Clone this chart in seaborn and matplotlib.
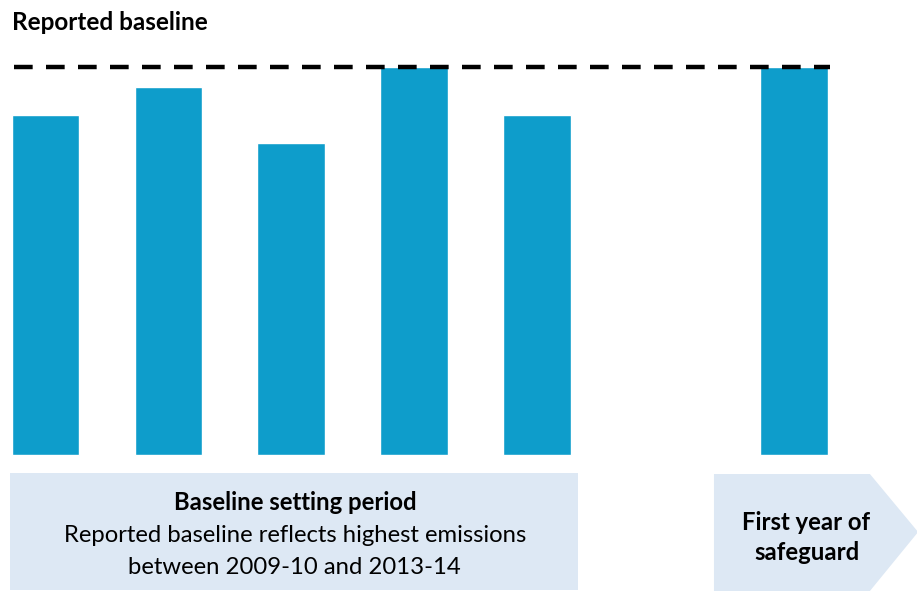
import matplotlib
matplotlib.use("Agg")
import matplotlib.pyplot as plt
import seaborn as sns
import pandas as pd
from matplotlib.patches import Rectangle, Polygon

# Data
positions = [0, 1, 2, 3, 4, 6.09]
values = [340, 368, 312, 388, 340, 388]
baseline_value = 388
title_text = "Reported baseline"
period_title = "Baseline setting period"
period_lines = ["Reported baseline reflects highest emissions", "between 2009-10 and 2013-14"]
safeguard_lines = ["First year of", "safeguard"]

sns.set_style("white")
plt.rcParams['font.family'] = ['Lato', 'DejaVu Sans']
plt.rcParams['text.color'] = 'black'

bar_color = "#0E9DCB"
box_color = "#DDE8F4"

fig = plt.figure(figsize=(9.17, 5.91), dpi=100)
ax = fig.add_axes([0, 0, 1, 1])

df = pd.DataFrame({"pos": positions, "val": values})
sns.barplot(data=df, x="pos", y="val", native_scale=True, width=0.55,
            color=bar_color, saturation=1, ax=ax, errorbar=None)

ax.set_xlim(-0.370, 7.091)
ax.set_ylim(-136, 455)
ax.axis("off")

# dashed baseline
ax.plot([-0.257, 6.383], [baseline_value, baseline_value], color="black",
        lw=3.2, dashes=(4.2, 3.0), solid_capstyle="butt", dash_capstyle="butt", zorder=3)

# boxes
ax.add_patch(Rectangle((-0.289, -135), 4.333 + 0.289, 117, facecolor=box_color,
                       edgecolor="none", zorder=1))
ax.add_patch(Polygon([(5.439, -19), (6.708, -19), (7.10, -77), (6.708, -136), (5.439, -136)],
                     closed=True, facecolor=box_color, edgecolor="none", zorder=1))

fs_title = 17.5
fs_body = 17.2
# texts
ax.text(-0.27, 433, title_text, fontsize=fs_title, fontweight="bold", ha="left", va="center", color="black")
ax.text(2.029, -48, period_title, fontsize=fs_body, fontweight="bold", ha="center", va="center", color="black")
ax.text(2.029, -80, period_lines[0], fontsize=fs_body, ha="center", va="center", color="black")
ax.text(2.029, -112, period_lines[1], fontsize=fs_body, ha="center", va="center", color="black")
ax.text(6.192, -67, safeguard_lines[0], fontsize=fs_body, fontweight="bold", ha="center", va="center", color="black")
ax.text(6.192, -97, safeguard_lines[1], fontsize=fs_body, fontweight="bold", ha="center", va="center", color="black")

fig.savefig("out.png", dpi=100)
